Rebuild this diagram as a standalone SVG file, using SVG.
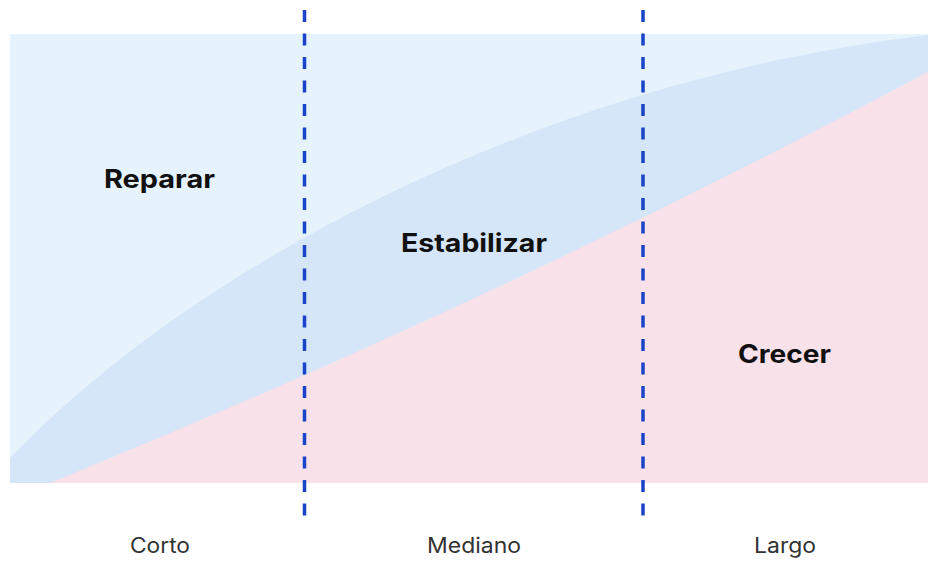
<svg xmlns="http://www.w3.org/2000/svg" width="928" height="561" viewBox="0 0 928 561">
<style>
.lbl{font-family:Inter,"Liberation Sans",Arial,sans-serif;font-weight:700;font-size:25.5px;fill:#111111}
.axis{font-family:Inter,"Liberation Sans",Arial,sans-serif;font-weight:400;font-size:21px;fill:#333333}
.dash{stroke:#1A44C8;stroke-width:3.5;stroke-dasharray:12 11.5;fill:none}
</style>
<rect width="928" height="561" fill="#ffffff"/>
<g id="zones">
<rect x="10" y="34" width="918" height="449" fill="#E6F3FD"/>
<path d="M10,458 C200,260 550,80 928,35 L928,483 L10,483 Z" fill="#D5E6F8"/>
<path d="M50,483 Q500,300 928,72 L928,483 Z" fill="#F9E1EA"/>
</g>
<g id="connectors">
<line class="dash" x1="304.5" y1="10" x2="304.5" y2="521"/>
<line class="dash" x1="643" y1="10" x2="643" y2="521"/>
</g>
<g id="reparar"><text class="lbl" x="104" y="188" textLength="111" lengthAdjust="spacingAndGlyphs">Reparar</text></g>
<g id="estabilizar"><text class="lbl" x="401" y="252" textLength="146" lengthAdjust="spacingAndGlyphs">Estabilizar</text></g>
<g id="crecer"><text class="lbl" x="738" y="363" textLength="93" lengthAdjust="spacingAndGlyphs">Crecer</text></g>
<g id="corto"><text class="axis" x="130" y="553" textLength="60" lengthAdjust="spacingAndGlyphs">Corto</text></g>
<g id="mediano"><text class="axis" x="427" y="553" textLength="94" lengthAdjust="spacingAndGlyphs">Mediano</text></g>
<g id="largo"><text class="axis" x="754" y="553" textLength="62" lengthAdjust="spacingAndGlyphs">Largo</text></g>
</svg>
